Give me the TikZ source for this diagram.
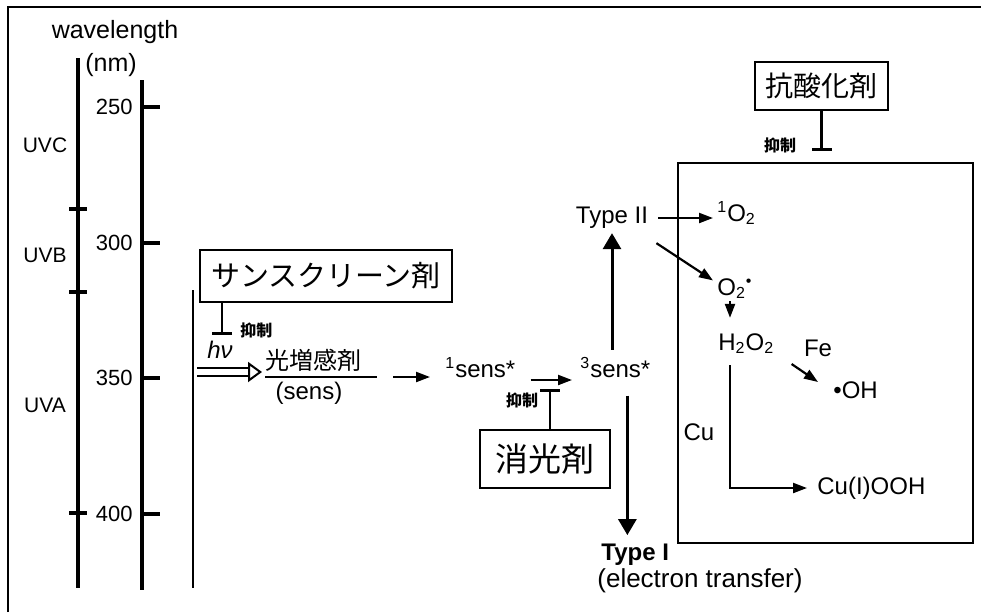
\documentclass[tikz,border=0pt]{standalone}
\usepackage{fontspec}
\setmainfont{Liberation Sans}
\newfontfamily\jp{Noto Sans CJK JP}
\usepackage{tikz}
\usetikzlibrary{arrows.meta,positioning,calc}

\begin{document}
\begin{tikzpicture}[x=0.5pt,y=-0.5pt,
  every node/.style={font=\fontsize{12}{14}\selectfont, inner sep=0pt},
  arr/.style={line width=1.1pt, -{Triangle[length=7pt,width=5pt]}},
  bigarr/.style={line width=1.5pt, -{Triangle[length=8pt,width=9pt]}},
  dblarr/.style={double, double distance=2.8pt, line width=1pt, -{Triangle[open,length=7pt,width=10pt]}},
  inhib/.style={line width=1.2pt, -{Bar[width=10pt,line width=1.6pt]}},
  agent/.style={draw, line width=1.2pt, font=\jp\fontsize{15}{17}\selectfont},
  yokusei/.style={font=\jp\bfseries\fontsize{8}{9}\selectfont},
  axis/.style={line width=1.6pt}]
\useasboundingbox (0,0) rectangle (981,612);
% frame
\draw[line width=1pt] (8,612) -- (8,7) -- (981,7);

% wavelength scale
\node (wl) at (115,32) {\fontsize{12.5}{14}\selectfont wavelength};
\node (nm) at (111,65) {\fontsize{12.5}{14}\selectfont (nm)};
\draw[axis] (78,58) -- (78,588);
\foreach \y in {209,292,513}
  \draw[axis] (69,\y) -- (87,\y);
\node[font=\fontsize{10.5}{12}\selectfont] (uvc) at (45,145) {UVC};
\node[font=\fontsize{10.5}{12}\selectfont] (uvb) at (45,255) {UVB};
\node[font=\fontsize{10.5}{12}\selectfont] (uva) at (45,405) {UVA};
\draw[line width=2pt] (142,80) -- (142,590);
\foreach \y/\l in {107/250,243/300,378/350,514/400}{
  \draw[axis] (142,\y) -- (160,\y);
  \node[anchor=east, font=\fontsize{11}{13}\selectfont] (w\l) at (133,\y) {\l};
}
\draw[line width=1pt] (193,290) -- (193,588);

% photosensitizer
\node[agent, minimum width=126pt, minimum height=26pt, font=\jp\fontsize{14.5}{16}\selectfont] (sun) at (326,276) {サンスクリーン剤};
\draw[inhib] ([xshift=-52pt]sun.south) -- ++(0,32);
\node[yokusei, anchor=west] (y1) at (240,330) {抑制};
\node (hv) at (220,350) {\textit{hν}};
\coordinate (hvin) at (197,372);
\node[anchor=base west, font=\jp\fontsize{12}{14}\selectfont] (sens) at (265,369) {光増感剤};
\draw[line width=1pt] (265,377) coordinate (rl) -- (377,377) coordinate (rr);
\node (sensl) at (309,393) {(sens)};
\draw[dblarr, shorten >=1.5pt] (hvin) -- (rl |- hvin);
\node[anchor=base west] (s1) at (445,377) {\textsuperscript{1}sens*};
\draw[arr, shorten <=8pt, shorten >=7.5pt] (rr) -- (s1.west |- rr);
\node[anchor=base west] (s3) at (580,377) {\textsuperscript{3}sens*};
\draw[arr, shorten <=7.5pt, shorten >=4pt] ([yshift=-1.5pt]s1.base east) -- ([yshift=-1.5pt]s3.base west);

% quencher
\node[agent, minimum width=65pt, minimum height=29pt, font=\jp\fontsize{16.5}{18}\selectfont] (que) at (545,459) {消光剤};
\draw[inhib] ([xshift=2.5pt]que.north) -- ++(0,-40);
\node[yokusei] (y2) at (522,400) {抑制};

% type I / II
\node (t2) at (612,218) {Type II};
\draw[bigarr, shorten <=3.5pt, shorten >=2pt] (t2.south |- s3.north) -- (t2.south);
\node[anchor=base west, font=\bfseries\fontsize{12}{14}\selectfont] (t1) at (601,560) {Type I};
\node[anchor=base west, font=\fontsize{13}{15}\selectfont] (et) at (597,587) {(electron transfer)};
\draw[bigarr, shorten <=9pt, shorten >=4pt] ([xshift=6pt]s3.south) -- ([xshift=6pt]s3.south |- t1.north);

% reactive oxygen species
\draw[line width=1.2pt] (678,163) rectangle (973,543);
\node[agent, minimum width=66.5pt, minimum height=24pt, font=\jp\fontsize{14}{16}\selectfont] (anti) at (821.5,86) {抗酸化剤};
\draw[inhib] (anti.south) -- ++(0,40);
\node[yokusei] (y3) at (780,145) {抑制};
\node[anchor=base west] (o1) at (717,221) {\textsuperscript{1}O\textsubscript{2}};
\draw[arr, shorten <=5pt, shorten >=2pt] (t2.east) -- (o1.west |- t2.east);
\node[anchor=base west] (o2) at (717,295) {O\textsubscript{2}\textsuperscript{•}};
\draw[arr] ([xshift=4pt,yshift=-7pt]t2.south east) -- ([xshift=-2pt,yshift=4pt]o2.west);
\node[anchor=base west] (h2) at (718,350) {H\textsubscript{2}O\textsubscript{2}};
\draw[arr, shorten <=1pt, shorten >=7.5pt] ([xshift=6.5pt]o2.south west) -- ([xshift=6.5pt]o2.south west |- h2.north);
\node (fe) at (818,348) {Fe};
\node[anchor=west] (oh) at (833,390) {•OH};
\draw[arr] ([xshift=8.5pt,yshift=-5pt]h2.south east) -- ([xshift=-7.5pt,yshift=4pt]oh.west);
\node[anchor=west] (cuo) at (817,488) {Cu(I)OOH};
\node (cu) at (699,432) {Cu};
\draw[arr, shorten <=5.5pt, shorten >=5pt] ([xshift=6pt]h2.south west) |- (cuo.west);
\end{tikzpicture}
\end{document}
